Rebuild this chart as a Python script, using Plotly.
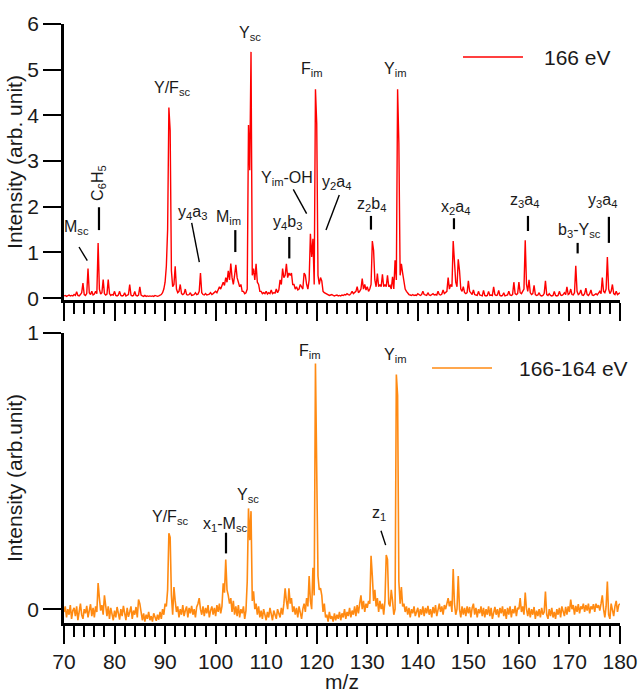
import numpy as np
import plotly.graph_objects as go

# ---------------- data ----------------
MZ_START, MZ_STOP, MZ_STEP = 70.0, 180.0, 0.25
mz = np.round(np.arange(MZ_START, MZ_STOP + MZ_STEP / 2, MZ_STEP), 2)

# 166 eV spectrum, one value every 0.25 m/z (rows = 10 m/z)
intensity_166 = [
    0.05,0.06,0.04,0.05, 0.07,0.05,0.06,0.05, 0.08,0.06,0.14,0.06, 0.05,0.08,0.12,0.33, 0.08,0.06,0.10,0.65, 0.12,0.08,0.15,0.07, 0.09,0.15,0.10,1.21, 0.20,0.09,0.12,0.41, 0.10,0.07,0.09,0.41, 0.10,0.06,0.08,0.07,
    0.15,0.06,0.05,0.07, 0.15,0.06,0.05,0.06, 0.12,0.05,0.06,0.08, 0.30,0.07,0.05,0.06, 0.15,0.06,0.05,0.07, 0.25,0.07,0.05,0.04, 0.06,0.04,0.05,0.04, 0.05,0.04,0.05,0.04, 0.06,0.05,0.04,0.05, 0.06,0.08,0.12,0.20,
    0.35,0.70,1.50,4.17, 3.67,0.60,0.25,0.30, 0.70,0.20,0.12,0.15, 0.30,0.10,0.08,0.10, 0.20,0.08,0.07,0.08, 0.12,0.06,0.07,0.08, 0.12,0.08,0.09,0.15, 0.55,0.12,0.08,0.07, 0.10,0.07,0.08,0.09, 0.12,0.08,0.10,0.12,
    0.15,0.12,0.18,0.25, 0.20,0.30,0.35,0.28, 0.45,0.35,0.60,0.40, 0.76,0.45,0.30,0.50, 0.73,0.45,0.35,0.25, 0.30,0.15,0.15,0.10, 0.12,0.20,3.79,2.80, 5.39,0.50,0.65,0.40, 0.75,0.35,0.30,0.15, 0.15,0.10,0.12,0.10,
    0.15,0.09,0.12,0.10, 0.18,0.10,0.12,0.11, 0.20,0.12,0.18,0.40, 0.30,0.65,0.45,0.50, 0.75,0.45,0.55,0.50, 0.55,0.30,0.30,0.20, 0.25,0.18,0.20,0.30, 0.25,0.20,0.55,0.50, 0.30,0.20,0.40,1.41, 0.90,1.30,0.30,4.57,
    3.82,0.50,0.30,0.45, 0.38,0.15,0.12,0.10, 0.08,0.07,0.06,0.07, 0.08,0.06,0.05,0.06, 0.07,0.05,0.06,0.05, 0.07,0.06,0.08,0.07, 0.10,0.08,0.07,0.10, 0.15,0.10,0.12,0.15, 0.25,0.12,0.15,0.20, 0.43,0.20,0.30,0.18,
    0.25,0.15,0.20,0.30, 1.25,1.05,0.40,0.25, 0.54,0.25,0.30,0.25, 0.52,0.25,0.30,0.25, 0.50,0.25,0.28,0.20, 0.47,0.20,0.83,0.40, 4.57,3.40,0.50,0.75, 0.55,0.30,0.20,0.15, 0.10,0.08,0.07,0.06, 0.08,0.06,0.07,0.06,
    0.10,0.07,0.06,0.08, 0.15,0.08,0.07,0.06, 0.12,0.07,0.06,0.08, 0.10,0.07,0.08,0.07, 0.15,0.08,0.07,0.09, 0.18,0.10,0.12,0.15, 0.45,0.20,0.30,0.25, 1.25,0.80,0.35,0.25, 0.85,0.60,0.20,0.15, 0.25,0.12,0.10,0.12,
    0.38,0.15,0.10,0.08, 0.18,0.08,0.07,0.06, 0.15,0.07,0.06,0.05, 0.17,0.06,0.05,0.06, 0.15,0.06,0.07,0.06, 0.25,0.08,0.06,0.07, 0.17,0.06,0.05,0.06, 0.12,0.05,0.06,0.07, 0.15,0.07,0.06,0.08, 0.35,0.10,0.08,0.10,
    0.35,0.12,0.10,0.15, 0.20,1.27,0.30,0.15, 0.40,0.12,0.08,0.10, 0.28,0.08,0.06,0.07, 0.12,0.06,0.05,0.06, 0.10,0.38,0.08,0.06, 0.10,0.06,0.05,0.06, 0.15,0.06,0.05,0.06, 0.15,0.07,0.06,0.08, 0.12,0.08,0.25,0.08,
    0.10,0.20,0.08,0.07, 0.12,0.71,0.15,0.08, 0.10,0.18,0.07,0.06, 0.10,0.22,0.08,0.06, 0.10,0.18,0.07,0.06, 0.08,0.10,0.07,0.12, 0.15,0.10,0.45,0.15, 0.12,0.20,0.90,0.20, 0.10,0.15,0.30,0.10, 0.08,0.15,0.08,0.10,
    0.12,
]

# 166-164 eV difference spectrum, one value every 0.25 m/z (rows = 10 m/z)
intensity_diff = [
    -0.010,0.010,-0.030,0.000, -0.020,0.015,-0.035,-0.005, 0.005,-0.025,0.010,-0.040, -0.010,0.020,-0.020,-0.035, 0.000,-0.015,0.012,-0.030, -0.005,0.018,-0.025,0.005, -0.030,0.010,-0.010,0.095, 0.040,-0.005,0.015,-0.020, 0.050,0.000,-0.025,0.010, -0.035,0.005,-0.015,-0.040,
    -0.005,-0.030,0.008,-0.020, -0.038,0.000,-0.025,0.012, -0.015,-0.040,0.005,-0.028, -0.010,0.010,-0.035,-0.005, -0.020,0.008,-0.030,0.035, 0.020,-0.020,-0.040,-0.015, -0.045,-0.020,-0.035,-0.010, -0.040,-0.025,-0.045,-0.015, -0.030,-0.042,-0.020,-0.038, -0.010,-0.035,0.000,-0.020,
    0.020,0.010,0.070,0.275, 0.260,0.050,-0.020,0.080, 0.030,-0.010,0.010,-0.030, 0.000,-0.020,0.015,-0.025, -0.005,0.010,-0.030,0.005, -0.015,0.012,-0.020,0.000, -0.030,0.008,0.020,0.040, 0.000,-0.020,0.010,-0.025, 0.005,-0.015,0.015,-0.030, -0.005,0.010,-0.020,0.005,
    -0.025,0.015,-0.010,0.020, -0.015,0.010,0.094,0.060, 0.180,0.070,0.050,0.020, 0.040,-0.010,0.030,-0.020, 0.010,-0.025,0.015,-0.030, 0.000,-0.015,0.010,-0.035, -0.005,0.100,0.365,0.250, 0.355,0.030,0.065,0.000, 0.020,-0.020,0.010,-0.030, -0.005,-0.035,0.000,-0.020,
    -0.040,-0.010,-0.030,0.005, -0.025,-0.040,-0.005,-0.020, -0.035,0.000,-0.015,-0.030, 0.005,-0.020,0.020,0.076, 0.030,0.000,0.076,0.020, 0.040,-0.010,0.010,-0.020, 0.005,-0.030,0.010,-0.015, -0.035,0.000,0.020,-0.010, 0.040,0.010,0.120,0.030, 0.000,0.150,0.050,0.890,
    0.560,0.120,0.070,0.076, 0.050,-0.010,0.020,-0.030, -0.020,-0.045,-0.010,-0.035, -0.025,-0.045,-0.015,-0.040, -0.020,-0.035,-0.010,-0.040, -0.015,-0.030,0.000,-0.035, -0.010,-0.025,0.005,-0.030, -0.005,-0.020,0.010,-0.025, 0.015,-0.015,0.020,0.050, 0.000,0.030,-0.010,0.020,
    0.005,0.030,0.020,0.193, 0.120,0.030,0.070,0.010, 0.040,-0.010,0.030,0.000, 0.020,-0.020,0.030,0.196, 0.180,0.020,0.010,0.070, 0.030,-0.020,0.000,0.850, 0.775,0.100,0.020,0.080, 0.010,0.020,-0.010,0.010, -0.020,0.005,-0.030,0.000, -0.015,0.010,-0.025,-0.005,
    0.005,-0.030,0.000,-0.020, 0.010,-0.025,0.005,-0.015, 0.012,-0.020,0.000,-0.030, 0.008,-0.015,0.015,-0.025, 0.000,0.020,-0.010,0.010, -0.020,0.015,0.000,0.020, 0.040,0.010,0.030,-0.010, 0.145,0.020,-0.020,0.000, 0.120,0.000,-0.030,0.010, -0.020,0.005,-0.025,0.010,
    -0.015,0.008,-0.030,0.005, 0.020,-0.020,0.005,-0.030, 0.000,-0.015,0.010,-0.025, 0.005,-0.030,0.000,-0.020, 0.010,-0.025,0.005,-0.035, -0.010,0.008,-0.020,0.000, -0.030,0.005,-0.015,0.010, -0.025,0.000,-0.035,0.005, -0.020,0.010,-0.030,0.000, -0.015,0.012,-0.025,0.005,
    0.000,0.040,-0.010,0.010, -0.020,0.060,0.000,-0.025, 0.005,-0.030,0.000,-0.020, 0.008,-0.035,-0.005,-0.025, 0.000,-0.030,0.005,-0.020, -0.010,0.064,-0.020,-0.035, 0.000,-0.025,0.005,-0.030, -0.010,-0.035,0.000,-0.020, 0.005,-0.030,0.010,-0.015, -0.025,0.008,-0.020,0.010,
    -0.010,0.035,0.000,0.015, -0.020,0.012,-0.010,0.018, -0.015,0.010,0.000,0.020, -0.010,0.015,-0.005,0.020, -0.015,0.010,0.000,0.018, -0.010,0.020,0.005,0.015, -0.005,0.020,0.050,0.000, -0.030,0.010,0.100,-0.020, -0.035,0.020,0.000,-0.025, 0.010,0.030,-0.010,0.015,
    0.020,
]

series_names = ["166 eV", "166-164 eV"]

# peak labels: (text, m/z, intensity, angle)
top_labels = [
    ("M<sub>sc</sub>", 72.57, 1.54, 0),
    ("C<sub>6</sub>H<sub>5</sub>", 76.7, 2.52, -90),
    ("Y/F<sub>sc</sub>", 91.37, 4.58, 0),
    ("y<sub>4</sub>a<sub>3</sub>", 95.4, 1.88, 0),
    ("M<sub>im</sub>", 102.6, 1.77, 0),
    ("Y<sub>sc</sub>", 106.8, 5.80, 0),
    ("y<sub>4</sub>b<sub>3</sub>", 114.2, 1.65, 0),
    ("Y<sub>im</sub>-OH", 114.1, 2.63, 0),
    ("F<sub>im</sub>", 119.06, 5.01, 0),
    ("y<sub>2</sub>a<sub>4</sub>", 123.95, 2.53, 0),
    ("z<sub>2</sub>b<sub>4</sub>", 130.83, 2.04, 0),
    ("Y<sub>im</sub>", 135.58, 5.01, 0),
    ("x<sub>2</sub>a<sub>4</sub>", 147.45, 1.99, 0),
    ("z<sub>3</sub>a<sub>4</sub>", 161.16, 2.14, 0),
    ("b<sub>3</sub>-Y<sub>sc</sub>", 171.9, 1.49, 0),
    ("y<sub>3</sub>a<sub>4</sub>", 176.5, 2.13, 0),
]
# label pointer lines: (x0, y0, x1, y1, width)
top_marks = [
    (72.97, 1.12, 74.61, 0.82, 1.4),
    (76.92, 1.99, 76.92, 1.49, 2.2),
    (95.26, 1.65, 96.77, 0.79, 1.4),
    (103.89, 1.49, 103.89, 1.01, 2.2),
    (114.57, 1.34, 114.57, 0.87, 2.2),
    (115.36, 2.38, 118.0, 1.85, 1.4),
    (124.46, 2.26, 121.83, 1.49, 1.4),
    (130.73, 1.80, 130.73, 1.50, 2.2),
    (147.15, 1.75, 147.15, 1.51, 2.2),
    (161.79, 1.80, 161.79, 1.47, 2.2),
    (171.62, 1.21, 171.62, 0.98, 2.2),
    (177.8, 1.78, 177.8, 1.21, 2.2),
]
bottom_labels = [
    ("Y/F<sub>sc</sub>", 90.9, 0.332, 0),
    ("x<sub>1</sub>-M<sub>sc</sub>", 101.85, 0.305, 0),
    ("Y<sub>sc</sub>", 106.36, 0.413, 0),
    ("F<sub>im</sub>", 118.67, 0.933, 0),
    ("z<sub>1</sub>", 132.28, 0.348, 0),
    ("Y<sub>im</sub>", 135.58, 0.92, 0),
]
bottom_marks = [
    (102.05, 0.277, 102.05, 0.202, 2.2),
    (132.71, 0.284, 133.64, 0.232, 1.4),
]

assert len(intensity_166) == len(mz), len(intensity_166)
assert len(intensity_diff) == len(mz), len(intensity_diff)

# ---------------- figure ----------------
FONT = "Liberation Sans, Arial, sans-serif"
RED = "#FF0000"
ORANGE = "#FF8A12"
TXT = "#1a1a1a"

fig = go.Figure()
fig.add_trace(go.Scatter(x=mz, y=intensity_166, mode="lines", name=series_names[0],
                         line=dict(color=RED, width=1.4), xaxis="x", yaxis="y",
                         showlegend=False))
fig.add_trace(go.Scatter(x=mz, y=intensity_diff, mode="lines", name=series_names[1],
                         line=dict(color=ORANGE, width=1.6), xaxis="x2", yaxis="y2",
                         showlegend=False))

annotations = []
shapes = []
for labels, marks, xr, yr in [(top_labels, top_marks, "x", "y"),
                              (bottom_labels, bottom_marks, "x2", "y2")]:
    for text, x, y, ang in labels:
        annotations.append(dict(text=text, x=x, y=y, xref=xr, yref=yr, showarrow=False,
                                textangle=ang, xanchor="center", yanchor="middle",
                                font=dict(family=FONT, size=16, color=TXT)))
    for x0, y0, x1, y1, w in marks:
        shapes.append(dict(type="line", x0=x0, y0=y0, x1=x1, y1=y1, xref=xr, yref=yr,
                           line=dict(color="black", width=w)))

# legend-like keys
legend_keys = [(series_names[0], RED, 0.7176, 0.8255, 0.9449, 0.8597),
               (series_names[1], ORANGE, 0.6619, 0.7698, 0.4257, 0.8147)]
for name, col, x0, x1, y, xt in legend_keys:
    shapes.append(dict(type="line", x0=x0, x1=x1, y0=y, y1=y, xref="paper", yref="paper",
                       line=dict(color=col, width=1.5)))
    annotations.append(dict(text=name, x=xt, y=y, xref="paper", yref="paper", showarrow=False,
                            xanchor="left", yanchor="middle",
                            font=dict(family=FONT, size=21, color=TXT)))

common_x = dict(range=[70, 180], showline=True, linecolor="black", linewidth=2.5,
                ticks="outside", ticklen=18, tickwidth=2, tickcolor="black",
                dtick=10, tick0=70, showgrid=False, zeroline=False, automargin=False,
                minor=dict(dtick=2, ticklen=11, tickwidth=2, tickcolor="black", ticks="outside"),
                tickfont=dict(family=FONT, size=21, color=TXT))
common_y = dict(showline=True, linecolor="black", linewidth=2.5, ticks="outside",
                ticklen=18, tickwidth=2, tickcolor="black", showgrid=False, zeroline=False,
                automargin=False, tickfont=dict(family=FONT, size=21, color=TXT))

fig.update_layout(
    width=640, height=693,
    margin=dict(l=64, r=20, t=24, b=70, autoexpand=False),
    paper_bgcolor="white", plot_bgcolor="white",
    font=dict(family=FONT, color=TXT),
    xaxis=dict(common_x, anchor="y", showticklabels=False, domain=[0, 1]),
    yaxis=dict(common_y, anchor="x", domain=[0.5392, 1.0], range=[-0.04, 6.0],
               tickvals=[0, 1, 2, 3, 4, 5, 6],
               title=dict(text="Intensity (arb. unit)", standoff=0,
                          font=dict(family=FONT, size=21, color=TXT))),
    xaxis2=dict(common_x, anchor="y2", domain=[0, 1],
                title=dict(text="m/z", standoff=6, font=dict(family=FONT, size=21, color=TXT))),
    yaxis2=dict(common_y, anchor="x2", domain=[0.0, 0.4841], range=[-0.05, 1.0],
                tickvals=[0, 1],
                title=dict(text="Intensity (arb.unit)", standoff=0,
                           font=dict(family=FONT, size=21, color=TXT))),
    annotations=annotations,
    shapes=shapes,
)

fig.write_html("out.html", config={"displayModeBar": False},
               post_script="document.body.style.margin='0px';document.body.style.overflow='hidden';")
